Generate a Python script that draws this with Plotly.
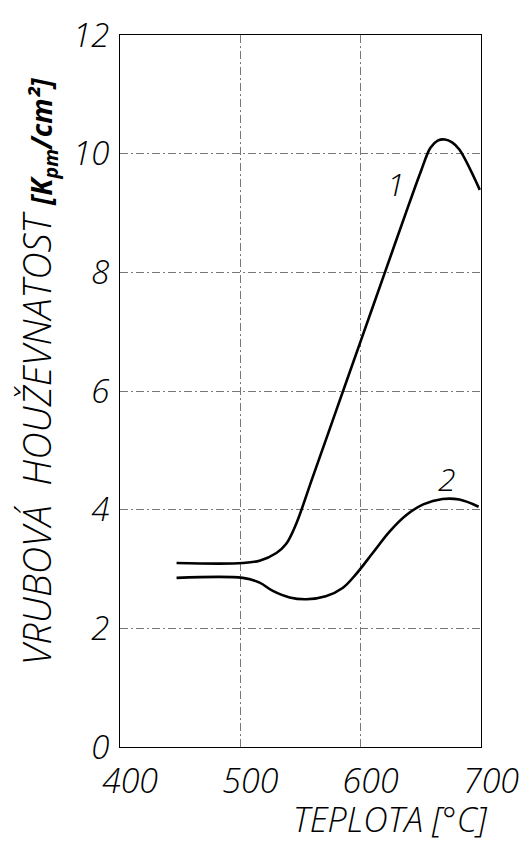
import plotly.graph_objects as go

# Notch toughness vs. tempering temperature
temp_1 = [447, 502, 516, 530, 538, 546, 560, 580, 600, 620, 640, 650, 658, 664, 670, 676, 682, 699]
tough_1 = [3.10, 3.10, 3.14, 3.27, 3.42, 3.74, 4.54, 5.69, 6.84, 7.99, 9.14, 9.70, 10.10, 10.22, 10.24, 10.19, 10.07, 9.39]

temp_2 = [447, 502, 516, 527, 541, 555, 571, 585, 596, 610, 624, 638, 652, 668, 682, 698]
tough_2 = [2.85, 2.85, 2.77, 2.63, 2.52, 2.49, 2.54, 2.68, 2.91, 3.27, 3.63, 3.91, 4.09, 4.18, 4.17, 4.05]

curve_labels = ["1", "2"]
label_pos = [(629, 9.49), (672, 4.52)]

x_ticks = [400, 500, 600, 700]
y_ticks = [0, 2, 4, 6, 8, 10, 12]

FONT = "Open Sans"
ital = dict(family=FONT, color="black", style="italic", weight=300)

fig = go.Figure()
for xs, ys in [(temp_1, tough_1), (temp_2, tough_2)]:
    fig.add_trace(go.Scatter(
        x=xs, y=ys, mode="lines",
        line=dict(color="black", width=2.6, shape="spline", smoothing=1.0),
        showlegend=False, hoverinfo="skip",
    ))

for txt, (lx, ly) in zip(curve_labels, label_pos):
    fig.add_annotation(x=lx, y=ly, text=txt, showarrow=False,
                       xanchor="center", yanchor="middle",
                       font=dict(ital, size=32))

axis_common = dict(
    showgrid=True, gridcolor="#777", gridwidth=1, griddash="8px,3px,2px,3px",
    showline=True, linecolor="black", linewidth=1.2, mirror=True,
    ticks="", zeroline=False,
)

fig.update_xaxes(
    range=[400, 700], tickvals=x_ticks,
    tickfont=dict(ital, size=34), ticklabelstandoff=4, ticklabelshift=10,
    **axis_common,
)
fig.update_yaxes(
    range=[0, 12], tickvals=y_ticks,
    tickfont=dict(ital, size=33), ticklabelstandoff=3,
    **axis_common,
)

# axis titles
fig.add_annotation(xref="paper", yref="paper", x=-0.232, y=0.434,
                   xanchor="center", yanchor="middle",
                   text="VRUBOVÁ  HOUŽEVNATOST", textangle=-90, showarrow=False,
                   font=dict(ital, size=38))
fig.add_annotation(xref="paper", yref="paper", x=-0.213, y=0.85,
                   xanchor="center", yanchor="middle",
                   text="<b>[K<sub>pm</sub>/cm²]</b>", textangle=-90, showarrow=False,
                   font=dict(ital, size=28))
fig.add_annotation(xref="paper", yref="paper", x=0.75, y=-0.1367,
                   xanchor="center", yanchor="bottom",
                   text="TEPLOTA [°C]", showarrow=False,
                   font=dict(ital, size=34))

fig.update_layout(
    width=531, height=846,
    margin=dict(l=120, r=49, t=30, b=99),
    paper_bgcolor="white", plot_bgcolor="white",
)

fig.write_html("out.html")
